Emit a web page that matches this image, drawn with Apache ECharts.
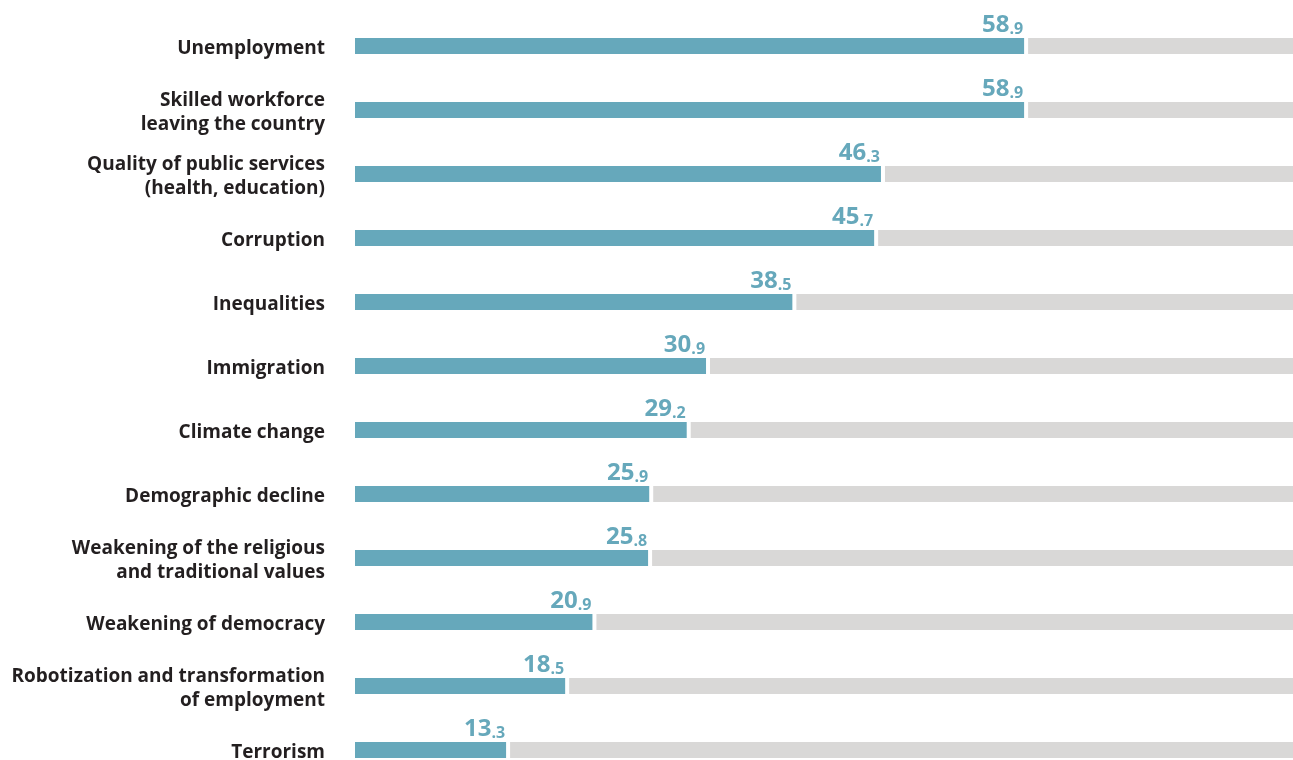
<!DOCTYPE html>
<html>
<head>
<meta charset="utf-8">
<script src="https://cdn.jsdelivr.net/npm/echarts@6/dist/echarts.min.js"></script>
<style>
  html, body { margin: 0; padding: 0; background: #ffffff; }
  #chart { width: 1293px; height: 760px; }
</style>
</head>
<body>
<div id="chart"></div>
<script>
// Share of respondents naming each issue as a concern (%)
const categories = [
  'Unemployment',
  'Skilled workforce\nleaving the country',
  'Quality of public services\n(health, education)',
  'Corruption',
  'Inequalities',
  'Immigration',
  'Climate change',
  'Demographic decline',
  'Weakening of the religious\nand traditional values',
  'Weakening of democracy',
  'Robotization and transformation\nof employment',
  'Terrorism'
];
const values = [58.9, 58.9, 46.3, 45.7, 38.5, 30.9, 29.2, 25.9, 25.8, 20.9, 18.5, 13.3];
const TOTAL = 100;

const TEAL = '#66a8bb';
const GREY = '#d9d8d7';
const TEXT = '#231f20';
const BAR_H = 16;
const GAP_PX = 4;
const FONT = 'Open Sans';

// plot area and a twin area, nudged down slightly, that carries the category names
const PLOT = { left: 355, width: 1136, top: 14, height: 768, containLabel: false, outerBoundsMode: 'none' };
const LABELS = Object.assign({}, PLOT, { top: PLOT.top + 3 });

const chart = echarts.init(document.getElementById('chart'), null, { renderer: 'canvas' });

chart.setOption({
  animation: false,
  backgroundColor: '#ffffff',
  textStyle: { fontFamily: FONT },
  grid: [PLOT, LABELS],
  xAxis: [
    { type: 'value', min: 0, max: TOTAL, show: false, gridIndex: 0 },
    { type: 'value', min: 0, max: TOTAL, show: false, gridIndex: 1 }
  ],
  yAxis: [
    {
      type: 'category',
      gridIndex: 0,
      data: categories,
      inverse: true,
      axisLine: { show: false },
      axisTick: { show: false },
      axisLabel: { show: false },
      splitLine: { show: false }
    },
    {
      type: 'category',
      gridIndex: 1,
      data: categories,
      inverse: true,
      axisLine: { show: false },
      axisTick: { show: false },
      splitLine: { show: false },
      axisLabel: {
        margin: 30,
        fontFamily: FONT,
        fontWeight: 'bold',
        fontSize: 19,
        lineHeight: 24,
        color: TEXT,
        align: 'right'
      }
    }
  ],
  series: [
    {
      // remainder of each bar up to 100%, separated from the value by a small gap
      type: 'custom',
      silent: true,
      clip: false,
      xAxisIndex: 0,
      yAxisIndex: 0,
      data: values.map((v, i) => [v, i]),
      encode: { x: 0, y: 1 },
      renderItem: function (params, api) {
        const start = api.coord([api.value(0), api.value(1)]);
        const end = api.coord([TOTAL, api.value(1)]);
        return {
          type: 'rect',
          shape: {
            x: start[0] + GAP_PX,
            y: start[1] - BAR_H / 2,
            width: end[0] - start[0] - GAP_PX,
            height: BAR_H
          },
          style: { fill: GREY }
        };
      }
    },
    {
      type: 'bar',
      xAxisIndex: 0,
      yAxisIndex: 0,
      data: values,
      barWidth: BAR_H,
      itemStyle: { color: TEAL },
      label: {
        show: true,
        position: ['100%', 0],
        align: 'right',
        verticalAlign: 'bottom',
        offset: [-1, -1],
        formatter: function (p) {
          const parts = p.value.toFixed(1).split('.');
          return '{a|' + parts[0] + '}{b|.' + parts[1] + '}';
        },
        rich: {
          a: { fontFamily: FONT, fontWeight: 'bold', fontSize: 24, color: TEAL, lineHeight: 28, verticalAlign: 'bottom' },
          b: { fontFamily: FONT, fontWeight: 'bold', fontSize: 16, color: TEAL, lineHeight: 23, verticalAlign: 'bottom' }
        }
      }
    }
  ]
});
</script>
</body>
</html>
